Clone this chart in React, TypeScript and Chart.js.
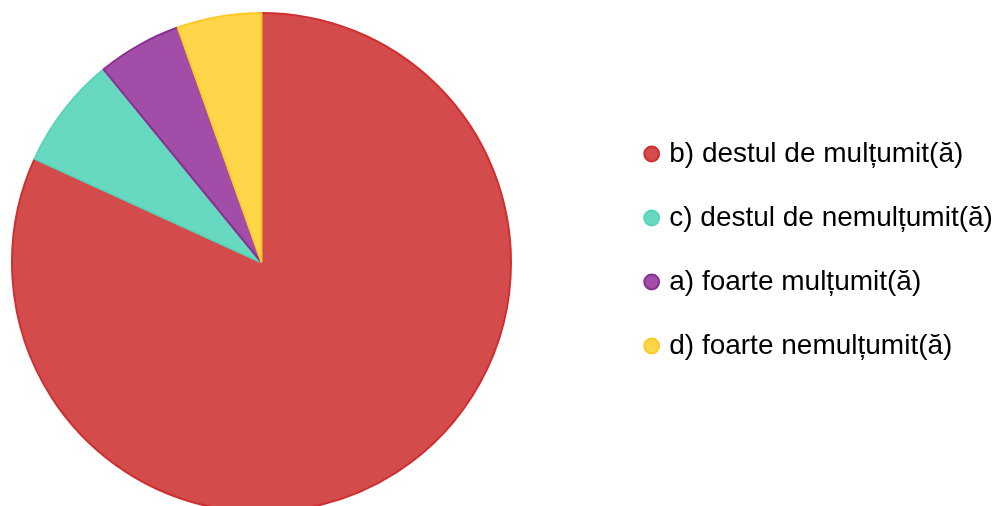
import React, { useEffect, useRef } from "react";
import { Chart, registerables } from "chart.js";

Chart.register(...registerables);

const categories = [
  "b) destul de mulțumit(ă)",
  "c) destul de nemulțumit(ă)",
  "a) foarte mulțumit(ă)",
  "d) foarte nemulțumit(ă)",
];
const counts = [45, 4, 3, 3];
const fillColors = [
  "rgba(212, 75, 75, 1)",
  "rgba(102, 217, 192, 1)",
  "rgba(162, 78, 168, 1)",
  "rgba(255, 213, 74, 1)",
];
const borderColors = ["#cf2f30", "#5ad3b8", "#8a2f93", "#ffc928"];

const LEGEND_WIDTH = 472;
const LEGEND_LEFT = 612.2;
const LEGEND_SHIFT_Y = -12.5;

const legendPlace = {
  id: "legendPlace",
  afterInit(chart: any) {
    const lg = chart.legend;
    if (!lg || lg.__patched) return;
    const orig = lg.fit.bind(lg);
    lg.fit = function () {
      orig();
      this.width = LEGEND_WIDTH;
    };
    lg.__patched = true;
  },
  afterLayout(chart: any) {
    const lg = chart.legend;
    if (!lg) return;
    const w = lg.right - lg.left;
    lg.left = LEGEND_LEFT;
    lg.right = LEGEND_LEFT + w;
    lg.top += LEGEND_SHIFT_Y;
    lg.bottom += LEGEND_SHIFT_Y;
  },
};

export default function App() {
  const ref = useRef<HTMLCanvasElement | null>(null);
  useEffect(() => {
    if (!ref.current) return;
    Chart.defaults.font.family = "'Liberation Sans', Arial, sans-serif";
    const chart = new Chart(ref.current, {
      type: "pie",
      data: {
        labels: categories,
        datasets: [
          {
            data: counts,
            backgroundColor: fillColors,
            borderColor: borderColors,
            borderWidth: 2,
            hoverOffset: 0,
            clip: false as any,
          },
        ],
      },
      options: {
        animation: false,
        responsive: true,
        maintainAspectRatio: false,
        radius: 249.5,
        layout: { padding: { top: 19, left: 0, right: 0, bottom: 0 } },
        plugins: {
          tooltip: { enabled: false },
          legend: {
            position: "right",
            labels: {
              usePointStyle: true,
              pointStyle: "circle",
              boxWidth: 7,
              boxHeight: 10.5,
              padding: 36,
              color: "#000",
              font: { size: 28 },
            },
          },
        },
      },
      plugins: [legendPlace],
    });
    return () => chart.destroy();
  }, []);
  return (
    <div style={{ position: "fixed", left: 0, top: 0, width: 995, height: 506 }}>
      <canvas ref={ref} />
    </div>
  );
}
